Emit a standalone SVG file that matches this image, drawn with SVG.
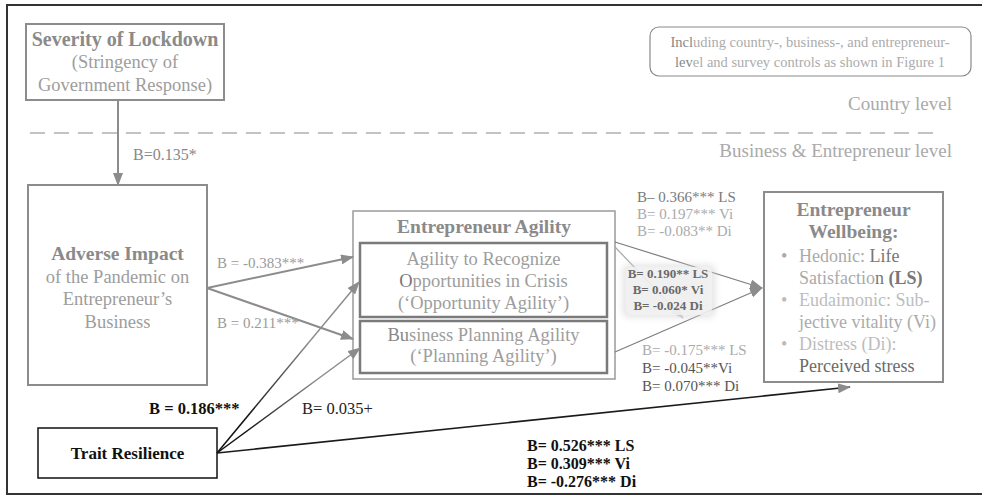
<svg xmlns="http://www.w3.org/2000/svg" width="982" height="501" viewBox="0 0 982 501">
<style>
text{font-family:"Liberation Serif","Times New Roman",serif}
.box{fill:#fff;stroke:#8c8c8c;stroke-width:2}
.inner{fill:none;stroke:#7a7a7a;stroke-width:2.5}
.t{font-size:18.5px;fill:#9d9d9d}
.tb{font-size:19.5px;font-weight:bold;fill:#8a8a8a}
.c{text-anchor:middle}
.lab{font-size:15px;fill:#9a9a9a}
.conn{fill:none;stroke:#8c8c8c;stroke-width:2}
.thin{fill:none;stroke:#7d7d7d;stroke-width:1.2}
.blk{font-size:16.5px;fill:#111}
</style>
<defs>
<marker id="ah" markerUnits="userSpaceOnUse" markerWidth="13" markerHeight="10" refX="12" refY="5" orient="auto"><path d="M0,0 L13,5 L0,10 z" fill="#8c8c8c"/></marker>
<marker id="ahl" markerUnits="userSpaceOnUse" markerWidth="13" markerHeight="10" refX="12" refY="5" orient="auto"><path d="M0,0 L13,5 L0,10 z" fill="#c8c8c8"/></marker>
<linearGradient id="g1" gradientUnits="userSpaceOnUse" x1="217" y1="453" x2="359" y2="282"><stop offset="0.2" stop-color="#111"/><stop offset="0.65" stop-color="#8c8c8c"/></linearGradient>
<linearGradient id="g2" gradientUnits="userSpaceOnUse" x1="217" y1="453" x2="360" y2="348"><stop offset="0.2" stop-color="#111"/><stop offset="0.7" stop-color="#8c8c8c"/></linearGradient>
<filter id="glow" x="-20%" y="-20%" width="140%" height="140%"><feGaussianBlur stdDeviation="3"/></filter>
</defs>

<rect x="7" y="5" width="990" height="489" fill="none" stroke="#333" stroke-width="2"/>
<line x1="30" y1="133" x2="940" y2="133" stroke="#b0b0b0" stroke-width="1.5" stroke-dasharray="15 9"/>
<text x="952" y="110" style="font-size:19px;fill:#aaa;text-anchor:end">Country level</text>
<text x="952" y="157" style="font-size:19px;fill:#aaa;text-anchor:end">Business &amp; Entrepreneur level</text>

<g id="controls">
<rect x="650" y="27" width="321" height="49" rx="9" fill="none" stroke="#8a8a8a" stroke-width="1.2"/>
<text x="810" y="47" class="c" style="font-size:14.5px;fill:#ababab"><tspan fill="#888">Incl</tspan>uding country-, business-, and entrepreneur-</text>
<text x="810" y="67" class="c" style="font-size:14.5px;fill:#ababab"><tspan fill="#888">lev</tspan>el and survey controls as shown in Figure 1</text>
</g>

<g id="severity">
<rect class="box" x="26" y="24" width="198" height="76"/>
<text x="125" y="46" class="tb c" style="font-size:20px">Severity of Lockdown</text>
<text x="125" y="68" class="t c">(Stringency of</text>
<text x="125" y="91" class="t c">Government Response)</text>
</g>

<g id="adverse">
<rect class="box" x="28" y="185" width="179" height="200"/>
<text x="117.5" y="260" class="tb c">Adverse Impact</text>
<text x="117.5" y="283" class="t c">of the Pandemic on</text>
<text x="117.5" y="305" class="t c">Entrepreneur’s</text>
<text x="117.5" y="328" class="t c">Business</text>
</g>

<g id="agility">
<rect x="353" y="211" width="262" height="168" fill="#fff" stroke="#9a9a9a" stroke-width="1.5"/>
<text x="484" y="233" class="tb c">Entrepreneur Agility</text>
<g id="opportunity-agility">
<rect class="inner" x="360" y="243" width="247" height="74"/>
<text x="483.5" y="265" class="t c">Agility to Recognize</text>
<text x="483.5" y="287" class="t c"><tspan fill="#777">O</tspan>pportunities in Crisis</text>
<text x="483.5" y="309" class="t c">(‘Opportunity Agility’)</text>
</g>
<g id="planning-agility">
<rect class="inner" x="360" y="321" width="247" height="52"/>
<text x="483.5" y="341" class="t c"><tspan fill="#888">Bu</tspan>siness Planning Agility</text>
<text x="483.5" y="362" class="t c">(‘Planning Agility’)</text>
</g>
</g>

<g id="wellbeing">
<rect class="box" x="764" y="192" width="179" height="190"/>
<text x="853.5" y="216" class="tb c">Entrepreneur</text>
<text x="853.5" y="238" class="tb c">Wellbeing:</text>
<g style="font-size:18px">
<text x="781" y="262" fill="#aaa">•</text>
<text x="799" y="262" fill="#aaa">Hedonic: <tspan fill="#777">Life</tspan></text>
<text x="799" y="284" fill="#aaa">Satisfactio<tspan fill="#777">n </tspan><tspan fill="#777" font-weight="bold">(LS)</tspan></text>
<text x="781" y="306" fill="#bbb">•</text>
<text x="799" y="306" fill="#bdbdbd">Eudaimonic: Sub-</text>
<text x="799" y="328" fill="#ababab">jective vitality (Vi)</text>
<text x="781" y="350" fill="#bbb">•</text>
<text x="799" y="350" fill="#bdbdbd">Distress (Di):</text>
<text x="799" y="372" fill="#6a6a6a">Perceived stress</text>
</g>
</g>

<g id="trait">
<rect x="38" y="428" width="179" height="50" fill="#fff" stroke="#111" stroke-width="1.5"/>
<text x="127.5" y="459" class="c" style="font-size:17px;font-weight:bold;fill:#111">Trait Resilience</text>
</g>

<g id="connectors">
<line class="conn" x1="118" y1="100" x2="118" y2="185" marker-end="url(#ah)"/>
<line class="conn" x1="207" y1="288" x2="353" y2="257" marker-end="url(#ah)"/>
<line class="conn" x1="207" y1="288" x2="353" y2="339" marker-end="url(#ah)"/>
<line x1="217" y1="453" x2="359" y2="282" stroke="url(#g1)" stroke-width="1.5" marker-end="url(#ah)"/>
<line x1="217" y1="453" x2="360" y2="348" stroke="url(#g2)" stroke-width="1.5" marker-end="url(#ah)"/>
<line x1="217" y1="453" x2="850" y2="387" stroke="#1a1a1a" stroke-width="1.6" marker-end="url(#ah)"/>
<line class="thin" x1="615" y1="242" x2="762" y2="288" marker-end="url(#ah)"/>
<line class="thin" x1="615" y1="352" x2="762" y2="288" marker-end="url(#ah)"/>
<line x1="615" y1="247" x2="683" y2="318" stroke="#a8a8a8" stroke-width="1.2" marker-end="url(#ahl)"/>
</g>

<g id="labels">
<text x="133" y="160" style="font-size:16px;fill:#888">B=0.135*</text>
<text x="217" y="268" class="lab">B = -0.383***</text>
<text x="217" y="328" class="lab">B = 0.211***</text>
<text x="637" y="202" class="lab" style="fill:#7a7a7a">B– 0.366*** LS</text>
<text x="637" y="219" class="lab" style="fill:#aaa">B= 0.197*** Vi</text>
<text x="637" y="236" class="lab" style="fill:#aaa">B= -0.083** Di</text>
<rect x="622" y="264" width="94" height="54" rx="8" fill="#d4d4d4" opacity="0.55" filter="url(#glow)"/>
<rect x="626" y="267" width="86" height="48" rx="6" fill="#f3f3f3" opacity="0.8"/>
<g class="c" style="font-size:13px;font-weight:bold;fill:#6a6a6a">
<text x="668" y="278">B= 0.190** LS</text>
<text x="668" y="294">B= 0.060* Vi</text>
<text x="668" y="310">B= -0.024 Di</text>
</g>
<text x="642" y="355" class="lab" style="fill:#aaa">B= -0.175*** LS</text>
<text x="642" y="373" class="lab" style="fill:#555">B= -0.045**Vi</text>
<text x="642" y="391" class="lab" style="fill:#555">B= 0.070*** Di</text>
<text x="149" y="414" class="blk" font-weight="bold">B = 0.186***</text>
<text x="302" y="414" class="blk" style="fill:#222">B= 0.035+</text>
<g style="font-size:16px;font-weight:bold;fill:#111">
<text x="527" y="451">B= 0.526*** LS</text>
<text x="527" y="469">B= 0.309*** Vi</text>
<text x="527" y="487">B= -0.276*** Di</text>
</g>
</g>
</svg>
